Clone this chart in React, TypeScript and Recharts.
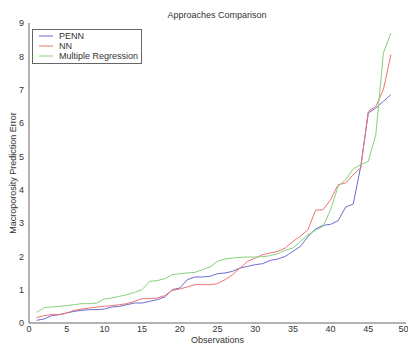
import { LineChart, Line, XAxis, YAxis, Legend } from "recharts";

const observations = [
  1, 2, 3, 4, 5, 6, 7, 8, 9, 10, 11, 12, 13, 14, 15, 16, 17, 18, 19, 20, 21, 22, 23, 24,
  25, 26, 27, 28, 29, 30, 31, 32, 33, 34, 35, 36, 37, 38, 39, 40, 41, 42, 43, 44, 45, 46, 47, 48,
];

const penn = [
  0.08, 0.12, 0.22, 0.25, 0.3, 0.35, 0.38, 0.4, 0.4, 0.42, 0.48, 0.5, 0.55, 0.6, 0.6, 0.65,
  0.7, 0.78, 1.0, 1.05, 1.3, 1.38, 1.38, 1.4, 1.48, 1.5, 1.55, 1.65, 1.7, 1.75, 1.78, 1.88,
  1.92, 2.0, 2.15, 2.3, 2.6, 2.82, 2.93, 2.96, 3.07, 3.48, 3.57, 4.7, 6.3, 6.45, 6.65, 6.85,
];

const nn = [
  0.16, 0.22, 0.25, 0.25, 0.3, 0.38, 0.42, 0.45, 0.48, 0.5, 0.52, 0.55, 0.58, 0.65, 0.73, 0.73,
  0.75, 0.82, 0.98, 1.02, 1.08, 1.15, 1.15, 1.15, 1.18, 1.3, 1.45, 1.65, 1.85, 1.95, 2.05, 2.1,
  2.15, 2.25, 2.45, 2.6, 2.8, 3.38, 3.4, 3.7, 4.15, 4.2, 4.45, 4.65, 6.35, 6.5, 7.0, 8.05,
];

const multipleRegression = [
  0.32, 0.46, 0.48, 0.5, 0.52, 0.55, 0.58, 0.58, 0.6, 0.72, 0.75, 0.8, 0.85, 0.92, 1.0, 1.25,
  1.27, 1.33, 1.45, 1.48, 1.5, 1.52, 1.6, 1.68, 1.85, 1.92, 1.95, 1.97, 1.98, 1.98, 1.99, 2.02,
  2.08, 2.18, 2.25, 2.45, 2.65, 2.78, 2.9, 3.4, 4.1, 4.3, 4.62, 4.75, 4.85, 5.65, 8.1, 8.7,
];

const xTicks = [0, 5, 10, 15, 20, 25, 30, 35, 40, 45, 50];
const yTicks = [0, 1, 2, 3, 4, 5, 6, 7, 8, 9];

const series = [
  { key: "penn", name: "PENN", color: "#6b6bd4" },
  { key: "nn", name: "NN", color: "#f07272" },
  { key: "mr", name: "Multiple Regression", color: "#88d07c" },
];

const data = observations.map((o, i) => ({
  obs: o,
  penn: penn[i],
  nn: nn[i],
  mr: multipleRegression[i],
}));

const FONT = "'Liberation Sans', Arial, sans-serif";
const AXIS = "#666";
const TEXT = "#333";

function LegendBox() {
  return (
    <div
      style={{
        border: `1px solid ${AXIS}`,
        background: "#fff",
        width: 108,
        padding: "1px 0 2px 0",
        fontFamily: FONT,
        fontSize: 9,
        color: TEXT,
        textAlign: "left",
      }}
    >
      {series.map((s) => (
        <div key={s.key} style={{ display: "flex", alignItems: "center", height: 10 }}>
          <svg width={24} height={10}>
            <line x1={6} x2={20} y1={5} y2={5} stroke={s.color} strokeWidth={1} />
          </svg>
          <span style={{ marginLeft: 2, lineHeight: "10px" }}>{s.name}</span>
        </div>
      ))}
    </div>
  );
}

export default function App() {
  const tickStyle = { fontSize: 9, fill: TEXT, fontFamily: FONT };
  return (
    <div style={{ position: "absolute", left: 0, top: 0, width: 408, height: 345, background: "#fff" }}>
      <div
        style={{
          position: "absolute",
          top: 9,
          left: 117,
          width: 200,
          textAlign: "center",
          fontFamily: FONT,
          fontSize: 9,
          color: TEXT,
          lineHeight: "12px",
        }}
      >
        Approaches Comparison
      </div>
      <LineChart
        width={408}
        height={345}
        data={data}
        margin={{ top: 23, right: 2, left: 0, bottom: 0 }}
        style={{ fontFamily: FONT }}
      >
        <XAxis
          xAxisId="b"
          dataKey="obs"
          type="number"
          domain={[0, 50]}
          ticks={xTicks}
          tickLine={false}
          tickSize={0}
          tickMargin={3}
          height={22}
          stroke={AXIS}
          tick={tickStyle}
          label={{ value: "Observations", position: "insideBottom", offset: 2, fontSize: 9, fill: TEXT }}
        />
        <XAxis xAxisId="bm" dataKey="obs" type="number" domain={[0, 50]} ticks={xTicks} mirror height={0} tick={false} tickSize={4} axisLine={false} stroke={AXIS} />
        <XAxis xAxisId="t" dataKey="obs" orientation="top" type="number" domain={[0, 50]} ticks={xTicks} mirror height={0} tick={false} tickSize={4} stroke={AXIS} />
        <YAxis
          yAxisId="l"
          type="number"
          domain={[0, 9]}
          ticks={yTicks}
          tickLine={false}
          tickSize={0}
          tickMargin={5}
          width={29}
          stroke={AXIS}
          tick={tickStyle}
          label={{ value: "Macroporosity Prediction Error", angle: -90, position: "center", dx: -2, fontSize: 9, fill: TEXT }}
        />
        <YAxis yAxisId="lm" type="number" domain={[0, 9]} ticks={yTicks} mirror width={0} tick={false} tickSize={4} axisLine={false} stroke={AXIS} />
        <YAxis yAxisId="r" orientation="right" type="number" domain={[0, 9]} ticks={yTicks} mirror width={0} tick={false} tickSize={4} stroke={AXIS} />
        <Legend
          layout="horizontal"
          verticalAlign="middle"
          align="center"
          content={() => <LegendBox />}
          wrapperStyle={{ left: 32, top: 29, width: 110 }}
        />
        {series.map((s) => (
          <Line
            key={s.key}
            xAxisId="b"
            yAxisId="l"
            type="linear"
            dataKey={s.key}
            name={s.name}
            stroke={s.color}
            strokeWidth={1}
            dot={false}
            isAnimationActive={false}
          />
        ))}
      </LineChart>
    </div>
  );
}
